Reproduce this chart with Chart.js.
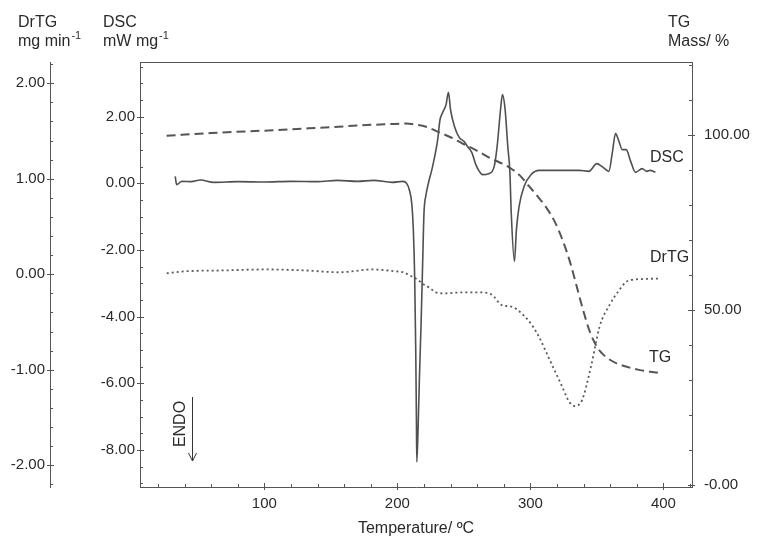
<!DOCTYPE html>
<html>
<head>
<meta charset="utf-8">
<title>DSC / TG / DrTG</title>
<script src="https://cdn.jsdelivr.net/npm/chart.js@4.4.1/dist/chart.umd.min.js"></script>
<style>
  body { margin: 0; background: #fff; }
  canvas { display: block; }
</style>
</head>
<body>
<canvas id="chart" width="766" height="549"></canvas>
<script>
// values, temperatures in ºC
const dscTemp = [33, 34, 38, 45, 52, 62, 80, 100, 120, 140, 155, 170, 182, 196, 204, 207, 209, 210.8, 212, 213,
  213.8, 214.3, 214.6, 215.6, 216.6, 217.9, 219, 220, 221.5, 223, 226.5, 230.3, 232, 234, 236.6, 238.4, 240, 243, 246.6, 250,
  252.6, 256, 259, 261.6, 264, 268.7, 272.8, 275, 277.8, 279, 281, 283, 284.6, 285.6, 288, 289.5, 291.5, 295.3, 300.4, 306.6,
  324, 336.6, 344, 350, 354, 359, 361.6, 364, 366.6, 369, 372, 375.4, 379, 384, 387.6, 390, 394];
const dscValue = [0.21, -0.04, 0.06, 0.05, 0.10, 0.03, 0.05, 0.04, 0.06, 0.05, 0.09, 0.06, 0.09, 0.03, 0.06, 0.0, -0.2, -0.6, -1.4, -2.8,
  -5.0, -7.0, -8.36, -7.3, -5.8, -4.1, -2.4, -0.9, -0.35, -0.05, 0.51, 1.31, 1.9, 2.12, 2.36, 2.73, 2.2, 1.7, 1.37, 1.26,
  1.11, 0.92, 0.56, 0.36, 0.26, 0.29, 0.51, 1.11, 2.31, 2.66, 2.21, 1.11, 0.32, -0.88, -2.34, -1.39, -0.69, -0.09, 0.26, 0.39,
  0.39, 0.39, 0.36, 0.59, 0.5, 0.36, 0.92, 1.49, 1.26, 1.01, 1.01, 0.66, 0.33, 0.44, 0.36, 0.39, 0.33];

const tgTemp = [26.5, 60, 106.5, 150, 190, 206.6, 212, 221.6, 229, 240, 249, 260, 269, 284, 292, 299, 305, 311.6, 318, 324,
  330, 335, 340, 345, 350, 355, 362, 368, 381.6, 390, 399];
const tgValue = [99.8, 100.6, 101.4, 102.3, 103.1, 103.3, 103.1, 102.4, 101.2, 99.4, 97.6, 95.5, 93.6, 90.8, 88.5, 85.4, 82.7, 79.5, 75.5, 70.2,
  63.5, 56.5, 49.5, 43.5, 39.5, 37.2, 35.3, 34.3, 32.9, 32.4, 31.9];

const drtgTemp = [26.6, 40, 70, 101.6, 130, 156.5, 181, 199, 204.6, 209, 215.5, 219, 224, 229, 235, 249, 262, 269, 273, 277,
  280, 286, 290, 296.3, 301, 306.6, 314.6, 322.7, 329.4, 333.4, 338.8, 345.5, 352, 360, 366.6, 372, 376, 386, 397.7];
const drtgValue = [0.01, 0.03, 0.04, 0.05, 0.04, 0.02, 0.05, 0.03, 0.02, -0.01, -0.06, -0.1, -0.14, -0.19, -0.2, -0.19, -0.19, -0.2, -0.24, -0.31,
  -0.33, -0.34, -0.37, -0.45, -0.53, -0.66, -0.9, -1.14, -1.34, -1.38, -1.32, -0.97, -0.55, -0.31, -0.17, -0.08, -0.06, -0.05, -0.045];

// tick labels
const tempTicks = [100, 200, 300, 400];
const dscTicks = [-8, -6, -4, -2, 0, 2];
const drtgTicks = [-2, -1, 0, 1, 2];
const tgTicks = [0, 50, 100];
const tgTickLabels = ['-0.00', '50.00', '100.00'];

const ink = '#555555';
const textColor = '#2a2a2a';
const family = '"Liberation Sans", Arial, sans-serif';

function points(xs, ys) {
  return xs.map((x, i) => ({ x: x, y: ys[i] }));
}

function useTicks(values) {
  return (scale) => { scale.ticks = values.map((v) => ({ value: v })); };
}

// little inward tick marks like the instrument software draws
function drawTicks(ctx, scale, step, major, edge, dir) {
  const first = Math.ceil(scale.min / step - 1e-9);
  const last = Math.floor(scale.max / step + 1e-9);
  for (let i = first; i <= last; i++) {
    const v = i * step;
    const isMajor = Math.abs(v / major - Math.round(v / major)) < 1e-6;
    const p = Math.round(scale.getPixelForValue(v)) + 0.5;
    const a = isMajor ? edge - dir * 3 : edge;
    const b = isMajor ? edge + dir * 4 : edge + dir * 3;
    ctx.beginPath();
    if (scale.isHorizontal()) {
      ctx.moveTo(p, a); ctx.lineTo(p, b);
    } else {
      ctx.moveTo(a, p); ctx.lineTo(b, p);
    }
    ctx.stroke();
  }
}

function superLabel(ctx, x, y, base, sup) {
  ctx.font = '16px ' + family;
  ctx.fillText(base, x, y);
  const w = ctx.measureText(base).width;
  ctx.font = '11px ' + family;
  ctx.fillText(sup, x + w + 1, y - 7);
}

const decorations = {
  id: 'decorations',
  afterDraw(chart) {
    const ctx = chart.ctx;
    const area = chart.chartArea;
    const s = chart.scales;
    ctx.save();
    ctx.strokeStyle = ink;
    ctx.lineWidth = 1;

    // top of the frame
    ctx.beginPath();
    ctx.moveTo(area.left, Math.round(area.top) + 0.5);
    ctx.lineTo(area.right, Math.round(area.top) + 0.5);
    ctx.stroke();

    drawTicks(ctx, s.x, 20, 100, area.bottom, -1);
    drawTicks(ctx, s.dsc, 0.5, 2, area.left, 1);
    drawTicks(ctx, s.drtg, 0.2, 1, s.drtg.right, 1);
    drawTicks(ctx, s.tg, 10, 50, area.right, -1);

    // axis headings
    ctx.fillStyle = textColor;
    ctx.textAlign = 'left';
    ctx.textBaseline = 'alphabetic';
    ctx.font = '16px ' + family;
    ctx.fillText('DrTG', 18, 27);
    ctx.fillText('DSC', 103, 27);
    ctx.fillText('TG', 668, 27);
    superLabel(ctx, 18, 46, 'mg min', '-1');
    superLabel(ctx, 103, 46, 'mW mg', '-1');
    ctx.font = '16px ' + family;
    ctx.fillText('Mass/ %', 668, 46);

    // curve names
    ctx.textBaseline = 'middle';
    ctx.fillText('DSC', 650, 158);
    ctx.fillText('DrTG', 650, 258);
    ctx.fillText('TG', 649, 358);

    // ENDO marker
    ctx.save();
    ctx.translate(181, 424);
    ctx.rotate(-Math.PI / 2);
    ctx.textAlign = 'center';
    ctx.fillText('ENDO', 0, 0);
    ctx.restore();
    ctx.strokeStyle = '#333';
    ctx.beginPath();
    ctx.moveTo(192.5, 397);
    ctx.lineTo(192.5, 461);
    ctx.moveTo(188.5, 453);
    ctx.lineTo(192.5, 461);
    ctx.lineTo(196.5, 453);
    ctx.stroke();
    ctx.restore();
  }
};

const tickFont = { family: family, size: 15 };

const ctx = document.getElementById('chart').getContext('2d');
const chart = new Chart(ctx, {
  type: 'scatter',
  data: {
    datasets: [
      {
        label: 'DSC',
        data: points(dscTemp, dscValue),
        yAxisID: 'dsc',
        showLine: true,
        borderColor: '#505050',
        borderWidth: 1.6,
        pointRadius: 0,
        cubicInterpolationMode: 'monotone',
      },
      {
        label: 'TG',
        data: points(tgTemp, tgValue),
        yAxisID: 'tg',
        showLine: true,
        borderColor: '#555555',
        borderWidth: 2,
        borderDash: [9, 5],
        pointRadius: 0,
        cubicInterpolationMode: 'monotone',
      },
      {
        label: 'DrTG',
        data: points(drtgTemp, drtgValue),
        yAxisID: 'drtg',
        showLine: true,
        borderColor: '#5a5a5a',
        borderWidth: 1.8,
        borderDash: [2, 3],
        pointRadius: 0,
        cubicInterpolationMode: 'monotone',
      },
    ],
  },
  options: {
    responsive: false,
    animation: false,
    devicePixelRatio: 1,
    layout: { padding: { top: 62, left: 0, right: 0, bottom: 0 } },
    plugins: {
      legend: { display: false },
      tooltip: { enabled: false },
    },
    scales: {
      x: {
        type: 'linear',
        position: 'bottom',
        min: 6.5,
        max: 421.5,
        afterBuildTicks: useTicks(tempTicks),
        afterFit: (scale) => { scale.height = 62; },
        grid: { display: false, drawTicks: false },
        border: { color: ink, width: 1 },
        ticks: { font: tickFont, color: textColor, padding: 8, maxRotation: 0, callback: (v) => String(v) },
        title: {
          display: true,
          text: 'Temperature/ ºC',
          font: { family: family, size: 16 },
          color: textColor,
          padding: { top: 0, bottom: 11 },
        },
      },
      dsc: {
        type: 'linear',
        position: 'left',
        weight: 0,
        min: -9.11,
        max: 3.64,
        afterBuildTicks: useTicks(dscTicks),
        afterFit: (scale) => { scale.width = 90; },
        grid: { display: false, drawTicks: false },
        border: { color: ink, width: 1 },
        ticks: { font: tickFont, color: textColor, padding: 5, callback: (v) => v.toFixed(2) },
      },
      drtg: {
        type: 'linear',
        position: 'left',
        weight: 1,
        min: -2.228,
        max: 2.222,
        afterBuildTicks: useTicks(drtgTicks),
        afterFit: (scale) => { scale.width = 50; },
        grid: { display: false, drawTicks: false },
        border: { color: ink, width: 1 },
        ticks: { font: tickFont, color: textColor, padding: 5, callback: (v) => v.toFixed(2) },
      },
      tg: {
        type: 'linear',
        position: 'right',
        min: -0.57,
        max: 120.9,
        afterBuildTicks: useTicks(tgTicks),
        afterFit: (scale) => { scale.width = 74; },
        grid: { display: false, drawTicks: false },
        border: { color: ink, width: 1 },
        ticks: { font: tickFont, color: textColor, padding: 12, callback: (v, i) => tgTickLabels[i] },
      },
    },
  },
  plugins: [decorations],
});
</script>
</body>
</html>
